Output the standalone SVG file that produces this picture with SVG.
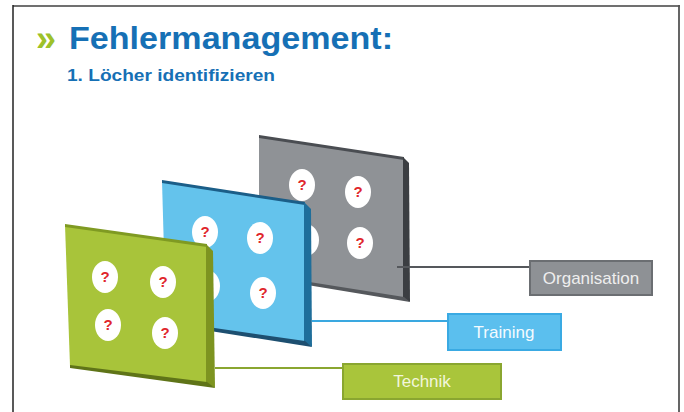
<svg xmlns="http://www.w3.org/2000/svg" width="684" height="412" viewBox="0 0 684 412">
<defs>
<style>
.hole{fill:#ffffff}
.q{font-family:"Liberation Sans",Arial,sans-serif;font-weight:bold;font-size:15px;fill:#e0262b;text-anchor:middle}
.lbl{font-family:"Liberation Sans",Arial,sans-serif;font-size:17px;text-anchor:middle}
.title{font-family:"Liberation Sans",Arial,sans-serif;font-weight:bold;fill:#1670b5}
</style>
</defs>
<rect x="0" y="0" width="684" height="412" fill="#ffffff"/>
<!-- slide frame -->
<g id="frame" fill="none">
<line x1="13" y1="6" x2="680" y2="6" stroke="#707070" stroke-width="2.2"/>
<line x1="13" y1="5" x2="13" y2="412" stroke="#222" stroke-width="1.5"/>
<line x1="679" y1="5" x2="679" y2="412" stroke="#555" stroke-width="1.8"/>
</g>
<!-- title -->
<g id="title">
<text x="36" y="51" font-family="'Liberation Sans',Arial,sans-serif" font-weight="bold" font-size="36" fill="#9dc12a">»</text>
<text class="title" x="69" y="49" font-size="31" textLength="324" lengthAdjust="spacingAndGlyphs">Fehlermanagement:</text>
<text class="title" x="67" y="81" font-size="16" fill="#2a78b8" textLength="208" lengthAdjust="spacingAndGlyphs">1. Löcher identifizieren</text>
</g>
<!-- gray panel -->
<g id="panel-organisation">
<polygon points="259,136 404,158 404,298 259,275" fill="#8f9296"/>
<polygon points="259,135 404,157 404,160 259,138" fill="#4a4d52"/>
<polygon points="403,157 409,163 410,302 403,298" fill="#3b3e42"/>
<polygon points="259,274 404,297 410,302 259,277" fill="#55585c"/>
<ellipse class="hole" cx="302" cy="185" rx="13" ry="16"/>
<text class="q" x="302" y="190">?</text>
<ellipse class="hole" cx="358" cy="192" rx="13" ry="16"/>
<text class="q" x="358" y="197">?</text>
<ellipse class="hole" cx="306" cy="240" rx="13" ry="16"/>
<ellipse class="hole" cx="360" cy="243" rx="13" ry="16"/>
<text class="q" x="360" y="248">?</text>
</g>
<!-- blue panel -->
<g id="panel-training">
<polygon points="162,181 305,203 305,342 166,322" fill="#64c3ec"/>
<polygon points="162,180 305,202 305,205 162,183" fill="#1b5e88"/>
<polygon points="304,202 311,209 312,347 304,342" fill="#1f6e9a"/>
<polygon points="166,321 305,341 312,347 166,324" fill="#1d4f70"/>
<ellipse class="hole" cx="205" cy="232" rx="13" ry="16"/>
<text class="q" x="205" y="237">?</text>
<ellipse class="hole" cx="260" cy="238" rx="13" ry="16"/>
<text class="q" x="260" y="243">?</text>
<ellipse class="hole" cx="207" cy="286" rx="13" ry="16"/>
<ellipse class="hole" cx="263" cy="293" rx="13" ry="16"/>
<text class="q" x="263" y="298">?</text>
</g>
<!-- green panel -->
<g id="panel-technik">
<polygon points="65,225 207,245 207,383 70,366" fill="#a8c43a"/>
<polygon points="65,224 207,244 207,247 65,227" fill="#7f9a22"/>
<polygon points="206,244 213,251 215,388 206,383" fill="#7d9420"/>
<polygon points="70,365 207,382 215,388 70,368" fill="#5f7418"/>
<ellipse class="hole" cx="105" cy="277" rx="13" ry="16"/>
<text class="q" x="105" y="282">?</text>
<ellipse class="hole" cx="163" cy="282" rx="13" ry="16"/>
<text class="q" x="163" y="287">?</text>
<ellipse class="hole" cx="108" cy="325" rx="13" ry="16"/>
<text class="q" x="108" y="330">?</text>
<ellipse class="hole" cx="165" cy="333" rx="13" ry="16"/>
<text class="q" x="165" y="338">?</text>
</g>
<!-- connectors -->
<g id="connectors" fill="none" stroke-width="2">
<line x1="397" y1="267" x2="530" y2="267" stroke="#55585c"/>
<line x1="312" y1="321" x2="448" y2="321" stroke="#3aa8e0"/>
<line x1="215" y1="368" x2="343" y2="368" stroke="#8aa630"/>
</g>
<!-- label boxes -->
<g id="label-organisation">
<rect x="530" y="261" width="122" height="34" fill="#8e9195" stroke="#6b6e72" stroke-width="2"/>
<text class="lbl" x="591" y="284" fill="#eeeeee">Organisation</text>
</g>
<g id="label-training">
<rect x="448" y="314" width="113" height="36" fill="#5bbfee" stroke="#3aaae3" stroke-width="2"/>
<text class="lbl" x="504" y="338" fill="#f4fbff">Training</text>
</g>
<g id="label-technik">
<rect x="343" y="364" width="158" height="35" fill="#a9c53b" stroke="#8aa630" stroke-width="2"/>
<text class="lbl" x="422" y="387" fill="#f2f6dc">Technik</text>
</g>
</svg>
